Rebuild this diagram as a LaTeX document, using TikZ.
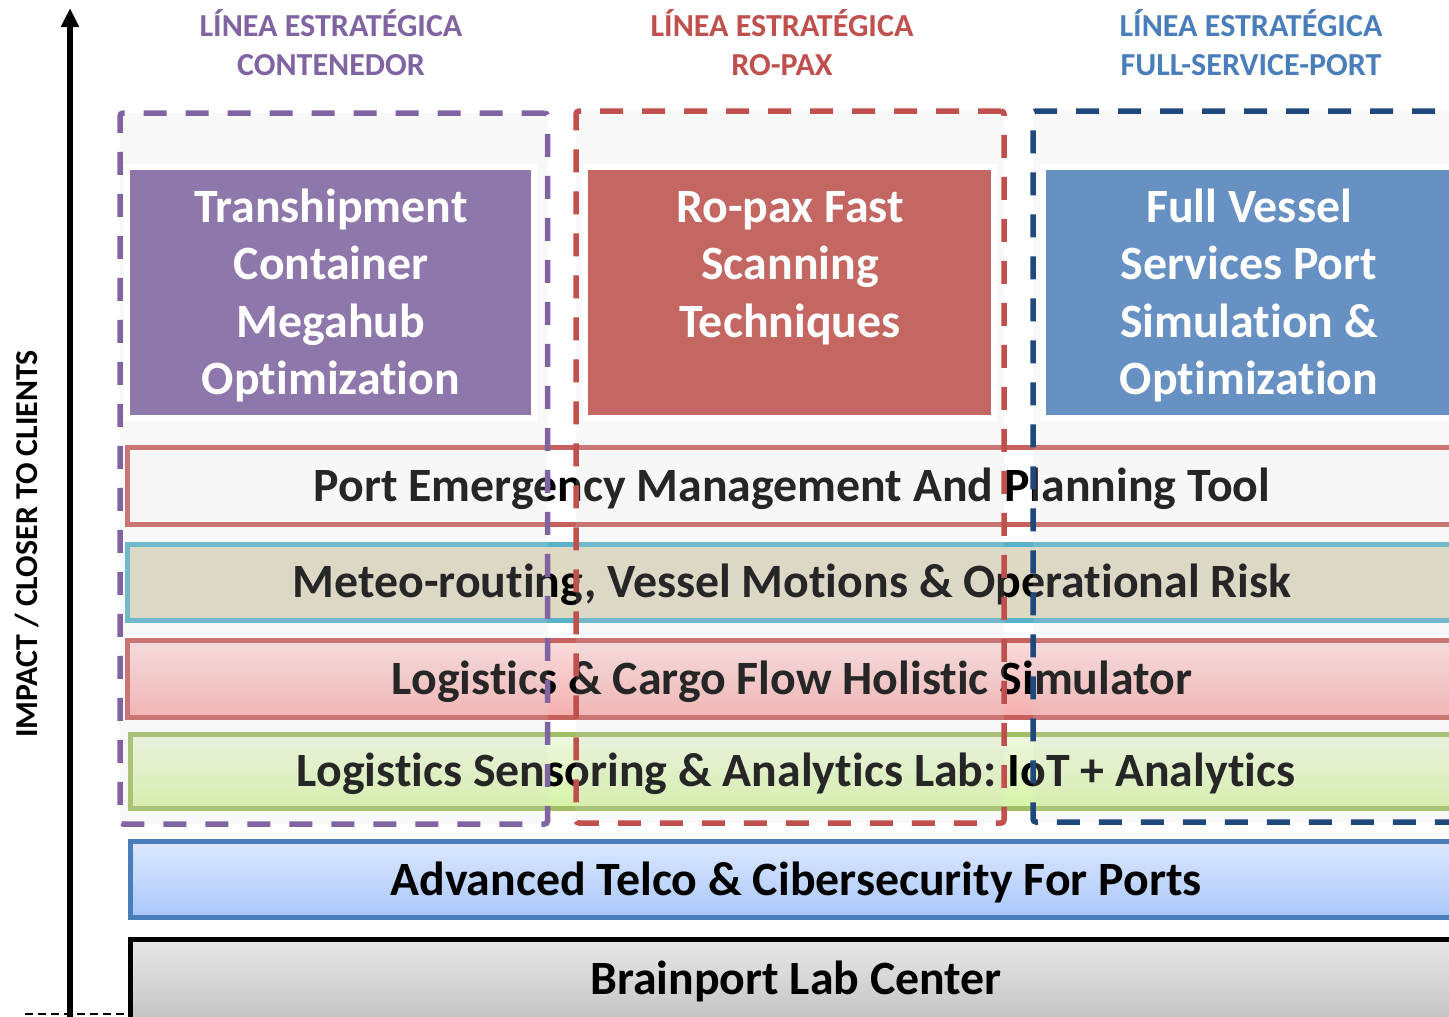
\documentclass[tikz,border=0pt]{standalone}
\usepackage{fontspec}
\setmainfont{Carlito}[Ligatures=NoCommon]
\frenchspacing
\usetikzlibrary{arrows.meta,shadows}
\definecolor{cpurple}{HTML}{8064A2}
\definecolor{cred}{HTML}{C0504D}
\definecolor{cblue}{HTML}{4A7EBB}
\definecolor{cnavy}{HTML}{1F497D}
\definecolor{bpurple}{HTML}{8E78AB}
\definecolor{bred}{HTML}{C46763}
\definecolor{bblue}{HTML}{6790C3}
\definecolor{framec}{HTML}{FFFFFF}
\definecolor{redline}{HTML}{C5605D}
\definecolor{cyanline}{HTML}{5AB2C8}
\definecolor{meteofill}{HTML}{DDD9C3}
\definecolor{greenline}{HTML}{A0BE64}
\definecolor{telcoline}{HTML}{4A7EBB}
\definecolor{overlayc}{HTML}{D8D8D8}
\definecolor{cargotop}{HTML}{FADCDC}
\definecolor{cargobot}{HTML}{F6AEAE}
\definecolor{senstop}{HTML}{EEF7E0}
\definecolor{sensbot}{HTML}{D6F4A6}
\definecolor{telcotop}{HTML}{DDE8FD}
\definecolor{telcobot}{HTML}{A7C7FA}
\definecolor{braintop}{HTML}{E8E8E8}
\definecolor{brainbot}{HTML}{C4C4C4}
\begin{document}
\begin{tikzpicture}[x=1bp,y=-1bp,
  bar/.style={draw, line width=5bp, anchor=north west, outer sep=0pt, inner sep=0pt,
    font=\fontsize{48}{56}\selectfont\bfseries, text=black,
    text height=31bp, text depth=0pt,
    drop shadow={opacity=0.15, shadow xshift=1.5bp, shadow yshift=-2.5bp}},
  container/.style={draw, line width=5.5bp, dash pattern=on 23bp off 19bp, rounded corners=3bp,
    fill=overlayc, fill opacity=0.18, anchor=north west, outer sep=0pt, inner sep=0pt},
  topbox/.style={draw=framec, line width=6bp, anchor=north west, outer sep=0pt, inner sep=0pt,
    minimum height=251bp,
    drop shadow={opacity=0.25, shadow xshift=2bp, shadow yshift=-3bp}},
  boxtext/.style={text=white, align=center, anchor=north, inner sep=0pt,
    font=\fontsize{48}{57.5}\selectfont\bfseries},
  hdr/.style={align=center, anchor=north, inner sep=0pt,
    font=\fontsize{32.2}{39}\selectfont\bfseries},
  axislabel/.style={rotate=90, inner sep=0pt, font=\fontsize{32}{38}\selectfont\bfseries,
    text height=20.6bp, text depth=0pt}
]
\useasboundingbox (0,0) rectangle (1449,1016);
\clip (0,0) rectangle (1449,1016);

% layers (bars)
\node[bar, draw=redline, fill=white, minimum width=1330bp, minimum height=77bp] (pem) at (127,447.5)
  {Port Emergency Management And Planning Tool};
\node[bar, draw=cyanline, fill=meteofill, minimum width=1330bp, minimum height=76.5bp] (meteo) at (127,544)
  {Meteo-routing, Vessel Motions \& Operational Risk};
\node[bar, draw=redline, top color=cargotop, bottom color=cargobot, minimum width=1330bp, minimum height=77bp] (cargo) at (127,640.5)
  {Logistics \& Cargo Flow Holistic Simulator};
\node[bar, draw=greenline, top color=senstop, bottom color=sensbot, minimum width=1332bp, minimum height=74bp] (sens) at (130,734)
  {Logistics Sensoring \& Analytics Lab: IoT + Analytics};
\node[bar, draw=telcoline, top color=telcotop, bottom color=telcobot, minimum width=1332bp, minimum height=76bp] (telco) at (130,841.5)
  {Advanced Telco \& Cibersecurity For Ports};
\node[bar, draw=black, top color=braintop, bottom color=brainbot, minimum width=1332bp, minimum height=80bp] (brain) at (130,939)
  {Brainport Lab Center};

% strategic-line containers
\node[container, draw=cpurple, minimum width=427.5bp, minimum height=711bp] (cpu) at (120,113) {};
\node[container, draw=cred, minimum width=428bp, minimum height=712bp] (cre) at (576,111) {};
\node[container, draw=cnavy, minimum width=447bp, minimum height=711bp] (cbl) at (1033,111) {};

% top boxes
\node[topbox, fill=bpurple, minimum width=407bp] (bpu) at (127,167) {};
\node[topbox, fill=bred, minimum width=409bp] (bre) at (585,167) {};
\node[topbox, fill=bblue, minimum width=427bp] (bbl) at (1043,167) {};
\node[boxtext] (tpu) at (331,222.5) {\smash{Transhipment}\\Container\\Megahub\\Optimization};
\node[boxtext] (tre) at (790,222.5) {\smash{Ro-pax Fast}\\Scanning\\Techniques};
\node[boxtext] (tbl) at (1249,222.5) {\smash{Full Vessel}\\Services Port\\Simulation \&\\Optimization};

% headers
\node[hdr, text=cpurple] (hpu) at (331,36.4) {\smash{LÍNEA ESTRATÉGICA}\\CONTENEDOR};
\node[hdr, text=cred] (hre) at (782,36.4) {\smash{LÍNEA ESTRATÉGICA}\\RO-PAX};
\node[hdr, text=cblue] (hbl) at (1251,36.4) {\smash{LÍNEA ESTRATÉGICA}\\FULL-SERVICE-PORT};

% axis
\coordinate (abot) at (70,1020);
\coordinate (atop) at (70,8);
\draw[line width=5.5bp, -{Triangle[width=17bp,length=19bp]}] (abot) -- (atop);
\coordinate (d1) at (25,1014);
\coordinate (d2) at (128,1014);
\draw[line width=1.5bp, dash pattern=on 8bp off 5bp] (d1) -- (d2);
\node[axislabel] (lab) at (27,544) {IMPACT / CLOSER TO CLIENTS};
\end{tikzpicture}
\end{document}
